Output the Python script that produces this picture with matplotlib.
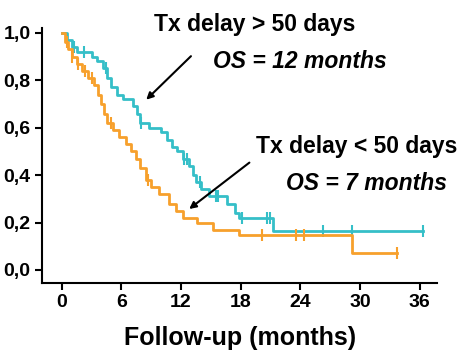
import numpy as np
import matplotlib
matplotlib.use("Agg")
import matplotlib.pyplot as plt

plt.rcParams['font.family'] = ['Liberation Sans', 'DejaVu Sans']
plt.rcParams['font.weight'] = 'bold'

# Tx delay > 50 days (cyan)
t_long = [0, 0.5, 1.0, 1.5, 3.0, 3.5, 4.2, 4.6, 5.0, 5.6, 6.2, 7.2, 7.6, 7.9, 8.8,
          10.0, 10.6, 11.1, 11.6, 12.2, 12.8, 13.2, 13.5, 14.0, 14.8, 16.6, 17.4,
          17.8, 21.3, 36.3]
s_long = [1.0, 0.97, 0.94, 0.92, 0.90, 0.88, 0.85, 0.81, 0.77, 0.74, 0.72, 0.69,
          0.66, 0.62, 0.60, 0.58, 0.55, 0.52, 0.50, 0.47, 0.44, 0.40, 0.37, 0.34,
          0.31, 0.28, 0.24, 0.22, 0.165, 0.165]
c_long = [1.2, 2.2, 4.5, 8.0, 12.3, 12.6, 13.9, 15.5, 15.7, 18.1, 20.7, 21.0,
          26.3, 29.2, 36.3]

# Tx delay < 50 days (orange)
t_short = [0, 0.3, 0.6, 1.0, 1.5, 2.0, 2.6, 3.2, 3.6, 3.9, 4.3, 4.6, 5.2, 5.8, 6.5,
           7.0, 7.5, 7.9, 8.5, 9.0, 9.8, 10.8, 11.5, 12.2, 13.6, 15.2, 17.8, 29.2,
           33.7]
s_short = [1.0, 0.96, 0.93, 0.90, 0.87, 0.84, 0.81, 0.78, 0.74, 0.70, 0.66, 0.62,
           0.59, 0.56, 0.53, 0.50, 0.47, 0.43, 0.38, 0.35, 0.32, 0.28, 0.25, 0.22,
           0.20, 0.17, 0.148, 0.072, 0.072]
c_short = [0.5, 1.0, 1.6, 2.3, 3.0, 5.0, 8.7, 20.1, 23.6, 24.4, 33.7]

cyan = '#35bfc8'
orange = '#f7a02c'

fig = plt.figure(figsize=(4.6, 3.52), dpi=100)
ax = fig.add_axes([0.091, 0.196, 0.86, 0.724])

for t, s, c, col in [(t_long, s_long, c_long, cyan), (t_short, s_short, c_short, orange)]:
    ax.plot(t, s, drawstyle='steps-post', color=col, lw=2)
    idx = np.searchsorted(t, c, side='right') - 1
    ax.plot(c, np.array(s)[idx], ls='none', marker='|', ms=8, mew=1.5, color=col)

ax.set_xlim(-2, 37.8)
ax.set_ylim(-0.055, 1.02)
ax.set_xticks([0, 6, 12, 18, 24, 30, 36])
ax.set_yticks([0, 0.2, 0.4, 0.6, 0.8, 1.0])
ax.set_yticklabels(['0,0', '0,2', '0,4', '0,6', '0,8', '1,0'])
ax.tick_params(labelsize=14, width=1.5, length=5, direction='out', pad=3)
for lab in ax.get_xticklabels() + ax.get_yticklabels():
    lab.set_fontweight('bold')
ax.spines['top'].set_visible(False)
ax.spines['right'].set_visible(False)
ax.spines['left'].set_linewidth(1.5)
ax.spines['bottom'].set_linewidth(1.5)
ax.set_xlabel('Follow-up (months)', fontsize=18, fontweight='bold', labelpad=11)

fig.text(255 / 460, 1 - 25 / 352, 'Tx delay > 50 days', fontsize=16.5, fontweight='bold',
         ha='center', va='center')
fig.text(300 / 460, 1 - 62 / 352, 'OS = 12 months', fontsize=16.5, fontweight='bold',
         style='italic', ha='center', va='center')
fig.text(357 / 460, 1 - 147 / 352, 'Tx delay < 50 days', fontsize=16.5, fontweight='bold',
         ha='center', va='center')
fig.text(367 / 460, 1 - 183 / 352, 'OS = 7 months', fontsize=16.5, fontweight='bold',
         style='italic', ha='center', va='center')

ax.annotate('', xy=(8.3, 0.71), xytext=(13.2, 0.91),
            arrowprops=dict(arrowstyle='-|>', color='black', lw=1.5, mutation_scale=10))
ax.annotate('', xy=(12.6, 0.25), xytext=(19.1, 0.46),
            arrowprops=dict(arrowstyle='-|>', color='black', lw=1.5, mutation_scale=10))

fig.savefig('out.png', dpi=100)
